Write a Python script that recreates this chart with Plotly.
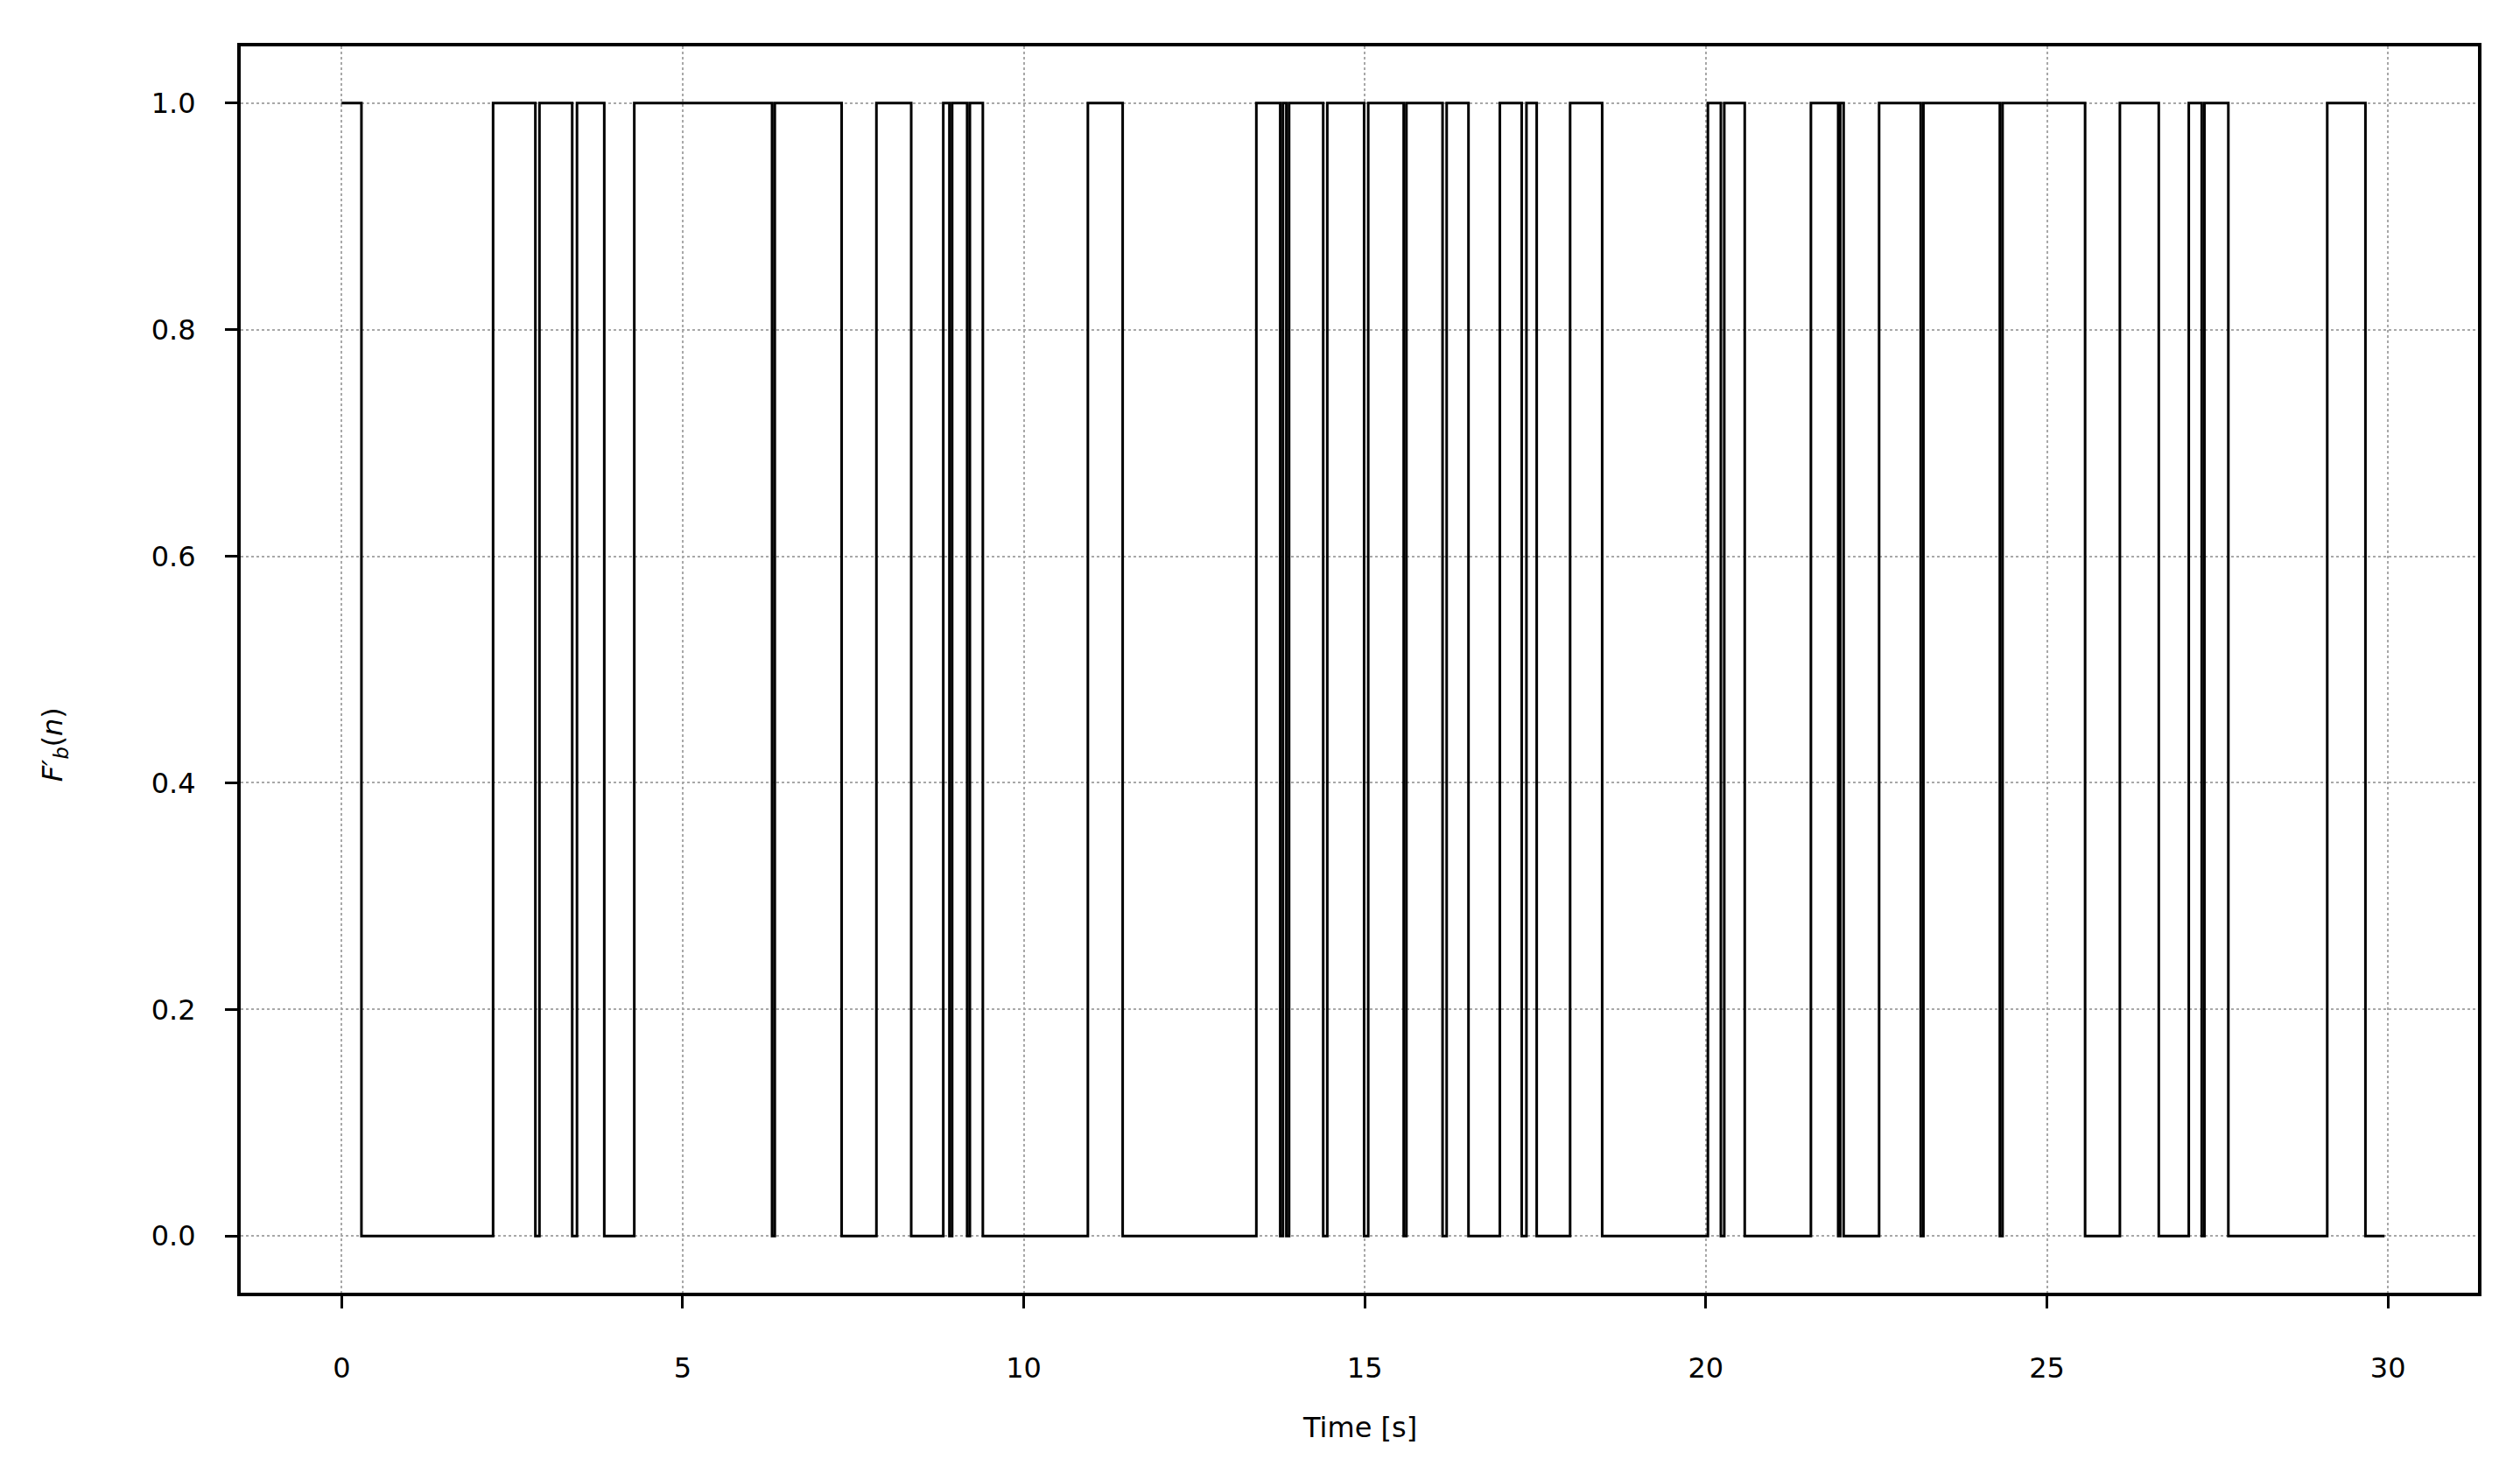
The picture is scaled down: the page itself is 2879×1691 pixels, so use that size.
import plotly.graph_objects as go

# switch times of the binary flag [s] and the level it takes from that time on
switch_t = [0.0, 0.29, 2.22, 2.84, 2.90, 3.38, 3.45, 3.85, 4.29, 6.31, 6.35,
            7.33, 7.84, 8.35, 8.82, 8.91, 8.95, 9.17, 9.21, 9.40, 10.94, 11.45,
            13.41, 13.76, 13.80, 13.85, 13.89, 14.39, 14.45, 14.99, 15.05,
            15.57, 15.61, 16.14, 16.20, 16.52, 16.98, 17.30, 17.37, 17.52,
            18.01, 18.48, 20.03, 20.22, 20.27, 20.57, 21.54, 21.94, 21.97,
            22.02, 22.54, 23.15, 23.19, 24.31, 24.35, 25.56, 26.07, 26.64,
            27.08, 27.27, 27.31, 27.66, 29.11, 29.67, 29.95]
switch_v = [1, 0, 1, 0, 1, 0, 1, 0, 1, 0, 1,
            0, 1, 0, 1, 0, 1, 0, 1, 0, 1, 0,
            1, 0, 1, 0, 1, 0, 1, 0, 1,
            0, 1, 0, 1, 0, 1, 0, 1, 0,
            1, 0, 1, 0, 1, 0, 1, 0, 1,
            0, 1, 0, 1, 0, 1, 0, 1, 0,
            1, 0, 1, 0, 1, 0, 0]

x_ticks = [0, 5, 10, 15, 20, 25, 30]
y_ticks = [0.0, 0.2, 0.4, 0.6, 0.8, 1.0]

font_fam = "DejaVu Sans"
fs = 32

fig = go.Figure()
fig.add_trace(go.Scatter(x=switch_t, y=switch_v, mode="lines",
                         line=dict(color="black", width=3, shape="hv"),
                         showlegend=False))

axis_common = dict(showline=True, linecolor="black", linewidth=4, mirror=True,
                   ticks="outside", ticklen=14, tickwidth=3, tickcolor="black",
                   showgrid=True, gridcolor="#a8a8a8", gridwidth=1.5, griddash="dot",
                   zeroline=False, tickfont=dict(family=font_fam, size=fs, color="black"))

fig.update_xaxes(range=[-1.48, 31.32], tickvals=x_ticks,
                 ticktext=[str(v) for v in x_ticks], ticklabelstandoff=41,
                 **axis_common)
fig.update_yaxes(range=[-0.05, 1.05], tickvals=y_ticks,
                 ticktext=[f"{v:.1f}" for v in y_ticks], ticklabelstandoff=27,
                 **axis_common)

# axis titles placed as annotations
fig.add_annotation(text="Time [s]", xref="paper", yref="paper", x=0.5, y=-0.108,
                   xanchor="center", yanchor="middle", showarrow=False,
                   font=dict(family=font_fam, size=fs, color="black"))
fig.add_annotation(text="<i>F′</i><sub><i>b</i></sub>(<i>n</i>)", xref="paper", yref="paper",
                   x=-0.083, y=0.44, xanchor="center", yanchor="middle",
                   textangle=-90, showarrow=False,
                   font=dict(family=font_fam, size=fs, color="black"))

fig.update_layout(width=2879, height=1691,
                  margin=dict(l=267, r=56, t=45, b=222),
                  paper_bgcolor="white", plot_bgcolor="white",
                  font=dict(family=font_fam, size=fs, color="black"))

fig.write_html("out.html")
